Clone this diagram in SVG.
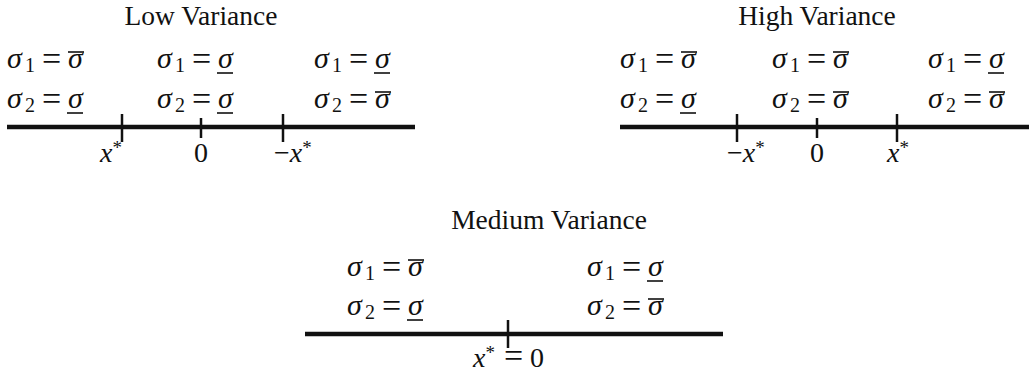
<svg xmlns="http://www.w3.org/2000/svg" width="1033" height="373" viewBox="0 0 1033 373">
<style>
text{font-family:"Liberation Serif","Times New Roman",serif;font-size:27px;fill:#111}
.m{font-size:30px}
.it{font-style:italic}
.sub{font-size:20px}
.eq{font-size:34px}
.star{font-size:19px}
.lbl{font-size:28px}
.title{text-anchor:middle;font-size:27.5px}
.axis{stroke:#111;stroke-width:4.5;stroke-linecap:butt}
.tick{stroke:#111;stroke-width:2.5}
.bar{stroke:#111;stroke-width:1.6}
</style>
<defs>
<g id="eqTop"><line class="bar" x1="61" y1="-16" x2="77" y2="-16"/></g>
<g id="eqBot"><line class="bar" x1="60" y1="5" x2="76" y2="5"/></g>
</defs>

<g id="low-variance">
<text class="title" x="201" y="25">Low Variance</text>
<g transform="translate(7,68)"><text class="m"><tspan class="it" x="0">σ</tspan><tspan class="sub" x="18" dy="4">1</tspan><tspan class="eq" x="35" dy="-2.5">=</tspan><tspan class="it" x="61" dy="-1.5">σ</tspan></text><use href="#eqTop"/></g>
<g transform="translate(7,108)"><text class="m"><tspan class="it" x="0">σ</tspan><tspan class="sub" x="18" dy="4">2</tspan><tspan class="eq" x="35" dy="-2.5">=</tspan><tspan class="it" x="61" dy="-1.5">σ</tspan></text><use href="#eqBot"/></g>
<g transform="translate(157,68)"><text class="m"><tspan class="it" x="0">σ</tspan><tspan class="sub" x="18" dy="4">1</tspan><tspan class="eq" x="35" dy="-2.5">=</tspan><tspan class="it" x="61" dy="-1.5">σ</tspan></text><use href="#eqBot"/></g>
<g transform="translate(157,108)"><text class="m"><tspan class="it" x="0">σ</tspan><tspan class="sub" x="18" dy="4">2</tspan><tspan class="eq" x="35" dy="-2.5">=</tspan><tspan class="it" x="61" dy="-1.5">σ</tspan></text><use href="#eqBot"/></g>
<g transform="translate(314,68)"><text class="m"><tspan class="it" x="0">σ</tspan><tspan class="sub" x="18" dy="4">1</tspan><tspan class="eq" x="35" dy="-2.5">=</tspan><tspan class="it" x="61" dy="-1.5">σ</tspan></text><use href="#eqBot"/></g>
<g transform="translate(314,108)"><text class="m"><tspan class="it" x="0">σ</tspan><tspan class="sub" x="18" dy="4">2</tspan><tspan class="eq" x="35" dy="-2.5">=</tspan><tspan class="it" x="61" dy="-1.5">σ</tspan></text><use href="#eqTop"/></g>
<line class="axis" x1="7" y1="127" x2="415" y2="127"/>
<line class="tick" x1="122" y1="114" x2="122" y2="142"/>
<line class="tick" x1="201" y1="118" x2="201" y2="138"/>
<line class="tick" x1="283" y1="114" x2="283" y2="142"/>
<text class="lbl" x="100" y="162"><tspan class="it">x</tspan><tspan class="star" dy="-8">*</tspan></text>
<text class="lbl" x="194" y="162">0</text>
<text class="lbl" x="274" y="162">−<tspan class="it">x</tspan><tspan class="star" dy="-8">*</tspan></text>
</g>

<g id="high-variance">
<text class="title" x="817" y="25">High Variance</text>
<g transform="translate(620,68)"><text class="m"><tspan class="it" x="0">σ</tspan><tspan class="sub" x="18" dy="4">1</tspan><tspan class="eq" x="35" dy="-2.5">=</tspan><tspan class="it" x="61" dy="-1.5">σ</tspan></text><use href="#eqTop"/></g>
<g transform="translate(620,108)"><text class="m"><tspan class="it" x="0">σ</tspan><tspan class="sub" x="18" dy="4">2</tspan><tspan class="eq" x="35" dy="-2.5">=</tspan><tspan class="it" x="61" dy="-1.5">σ</tspan></text><use href="#eqBot"/></g>
<g transform="translate(772,68)"><text class="m"><tspan class="it" x="0">σ</tspan><tspan class="sub" x="18" dy="4">1</tspan><tspan class="eq" x="35" dy="-2.5">=</tspan><tspan class="it" x="61" dy="-1.5">σ</tspan></text><use href="#eqTop"/></g>
<g transform="translate(772,108)"><text class="m"><tspan class="it" x="0">σ</tspan><tspan class="sub" x="18" dy="4">2</tspan><tspan class="eq" x="35" dy="-2.5">=</tspan><tspan class="it" x="61" dy="-1.5">σ</tspan></text><use href="#eqTop"/></g>
<g transform="translate(928,68)"><text class="m"><tspan class="it" x="0">σ</tspan><tspan class="sub" x="18" dy="4">1</tspan><tspan class="eq" x="35" dy="-2.5">=</tspan><tspan class="it" x="61" dy="-1.5">σ</tspan></text><use href="#eqBot"/></g>
<g transform="translate(928,108)"><text class="m"><tspan class="it" x="0">σ</tspan><tspan class="sub" x="18" dy="4">2</tspan><tspan class="eq" x="35" dy="-2.5">=</tspan><tspan class="it" x="61" dy="-1.5">σ</tspan></text><use href="#eqTop"/></g>
<line class="axis" x1="620" y1="127" x2="1029" y2="127"/>
<line class="tick" x1="737" y1="114" x2="737" y2="142"/>
<line class="tick" x1="817" y1="118" x2="817" y2="138"/>
<line class="tick" x1="897" y1="114" x2="897" y2="142"/>
<text class="lbl" x="727" y="162">−<tspan class="it">x</tspan><tspan class="star" dy="-8">*</tspan></text>
<text class="lbl" x="810" y="162">0</text>
<text class="lbl" x="887" y="162"><tspan class="it">x</tspan><tspan class="star" dy="-8">*</tspan></text>
</g>

<g id="medium-variance">
<text class="title" x="549" y="229">Medium Variance</text>
<g transform="translate(347,276)"><text class="m"><tspan class="it" x="0">σ</tspan><tspan class="sub" x="18" dy="4">1</tspan><tspan class="eq" x="35" dy="-2.5">=</tspan><tspan class="it" x="61" dy="-1.5">σ</tspan></text><use href="#eqTop"/></g>
<g transform="translate(347,315)"><text class="m"><tspan class="it" x="0">σ</tspan><tspan class="sub" x="18" dy="4">2</tspan><tspan class="eq" x="35" dy="-2.5">=</tspan><tspan class="it" x="61" dy="-1.5">σ</tspan></text><use href="#eqBot"/></g>
<g transform="translate(587,276)"><text class="m"><tspan class="it" x="0">σ</tspan><tspan class="sub" x="18" dy="4">1</tspan><tspan class="eq" x="35" dy="-2.5">=</tspan><tspan class="it" x="61" dy="-1.5">σ</tspan></text><use href="#eqBot"/></g>
<g transform="translate(587,315)"><text class="m"><tspan class="it" x="0">σ</tspan><tspan class="sub" x="18" dy="4">2</tspan><tspan class="eq" x="35" dy="-2.5">=</tspan><tspan class="it" x="61" dy="-1.5">σ</tspan></text><use href="#eqTop"/></g>
<line class="axis" x1="305" y1="334" x2="723" y2="334"/>
<line class="tick" x1="508" y1="320" x2="508" y2="348"/>
<text class="lbl" x="473" y="367"><tspan class="it">x</tspan><tspan class="star" dy="-8">*</tspan><tspan class="eq" x="504" dy="8">=</tspan><tspan x="530">0</tspan></text>
</g>
</svg>
